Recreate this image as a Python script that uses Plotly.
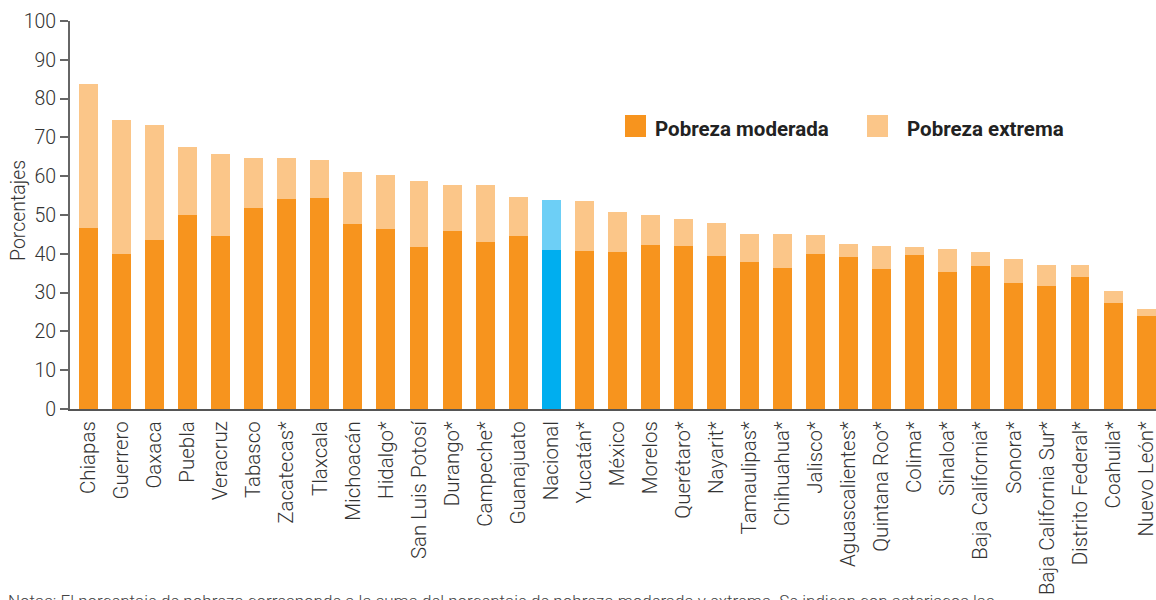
import plotly.graph_objects as go

estados = ["Chiapas", "Guerrero", "Oaxaca", "Puebla", "Veracruz", "Tabasco", "Zacatecas*",
           "Tlaxcala", "Michoacán", "Hidalgo*", "San Luis Potosí", "Durango*", "Campeche*",
           "Guanajuato", "Nacional", "Yucatán*", "México", "Morelos", "Querétaro*", "Nayarit*",
           "Tamaulipas*", "Chihuahua*", "Jalisco*", "Aguascalientes*", "Quintana Roo*", "Colima*",
           "Sinaloa*", "Baja California*", "Sonora*", "Baja California Sur*", "Distrito Federal*",
           "Coahuila*", "Nuevo León*"]

total = [83.7, 74.4, 73.1, 67.5, 65.7, 64.6, 64.6, 64.1, 61.0, 60.3, 58.7, 57.7, 57.7,
         54.6, 53.8, 53.6, 50.7, 50.0, 48.9, 47.9, 45.1, 45.1, 44.8, 42.5, 42.0, 41.7,
         41.2, 40.4, 38.6, 37.0, 37.0, 30.3, 25.9]

moderada = [46.6, 39.9, 43.5, 50.0, 44.6, 51.8, 54.1, 54.3, 47.6, 46.4, 41.7, 45.8, 43.0,
            44.6, 40.9, 40.7, 40.4, 42.2, 42.0, 39.4, 38.0, 36.4, 39.9, 39.1, 36.1, 39.7,
            35.3, 36.8, 32.4, 31.7, 34.0, 27.4, 23.9]

extrema = [round(t - m, 1) for t, m in zip(total, moderada)]

y_ticks = [0, 10, 20, 30, 40, 50, 60, 70, 80, 90, 100]

C_MOD = "#F7941E"
C_EXT = "#FBC689"
C_NAC_MOD = "#00AEEF"
C_NAC_EXT = "#6DCFF6"

col_mod = [C_NAC_MOD if e == "Nacional" else C_MOD for e in estados]
col_ext = [C_NAC_EXT if e == "Nacional" else C_EXT for e in estados]

FONT = "Roboto"
TXT = "#333333"

fig = go.Figure()
fig.add_trace(go.Bar(x=estados, y=moderada, name="Pobreza moderada",
                     marker=dict(color=col_mod, line=dict(width=0)), showlegend=False))
fig.add_trace(go.Bar(x=estados, y=extrema, name="Pobreza extrema",
                     marker=dict(color=col_ext, line=dict(width=0)), showlegend=False))

W, H = 1156, 600
L, R, T, B = 70, 0, 21, 191
pw, ph = W - L - R, H - T - B

def px(x):
    return (x - L) / pw

def py(y):
    return 1 - (y - T) / ph

# legend drawn as shapes + labels
legend_items = [("Pobreza moderada", C_MOD, 625, 653), ("Pobreza extrema", C_EXT, 867, 905)]
shapes = []
annotations = []
for label, col, sx, tx in legend_items:
    shapes.append(dict(type="rect", xref="paper", yref="paper",
                       x0=px(sx), x1=px(sx + 21), y0=py(137), y1=py(115),
                       fillcolor=col, line=dict(width=0)))
    annotations.append(dict(text=label, xref="paper", yref="paper", x=px(tx), y=py(129),
                            xanchor="left", yanchor="middle", showarrow=False,
                            font=dict(family=FONT, size=20.5, color="#222222", weight="bold")))

# y-axis title
annotations.append(dict(text="Porcentajes", xref="paper", yref="paper", x=px(18), y=py(211),
                        xanchor="center", yanchor="middle", textangle=-90, showarrow=False,
                        font=dict(family=FONT, size=19.5, color=TXT, weight=300)))

annotations.append(dict(
    text="Notas: El porcentaje de pobreza corresponde a la suma del porcentaje de pobreza moderada y extrema. Se indican con asteriscos las",
    xref="paper", yref="paper", x=px(6), y=py(589), xanchor="left", yanchor="top",
    showarrow=False, font=dict(family=FONT, size=17, color="#444444", weight=300)))

fig.update_layout(
    width=W, height=H,
    margin=dict(l=L, r=R, t=T, b=B, autoexpand=False),
    barmode="stack",
    bargap=0.426,
    plot_bgcolor="white", paper_bgcolor="white",
    font=dict(family=FONT, color=TXT, weight=300),
    shapes=shapes,
    annotations=annotations,
    xaxis=dict(
        type="category",
        range=[-0.56, 32.3],
        tickangle=-90,
        tickfont=dict(family=FONT, size=20.5, color=TXT, weight=300),
        showline=True, linecolor="#555555", linewidth=2,
        ticks="", showgrid=False, zeroline=False,
        ticklabelstandoff=2,
    ),
    yaxis=dict(
        range=[0, 100],
        tickvals=y_ticks,
        tickfont=dict(family=FONT, size=19.5, color=TXT, weight=300),
        showline=True, linecolor="#666666", linewidth=2,
        ticks="outside", ticklen=8, tickcolor="#666666", tickwidth=1.5,
        showgrid=False, zeroline=False,
    ),
)

fig.write_html("out.html", config={"displayModeBar": False},
               post_script="document.body.style.margin='0';")
